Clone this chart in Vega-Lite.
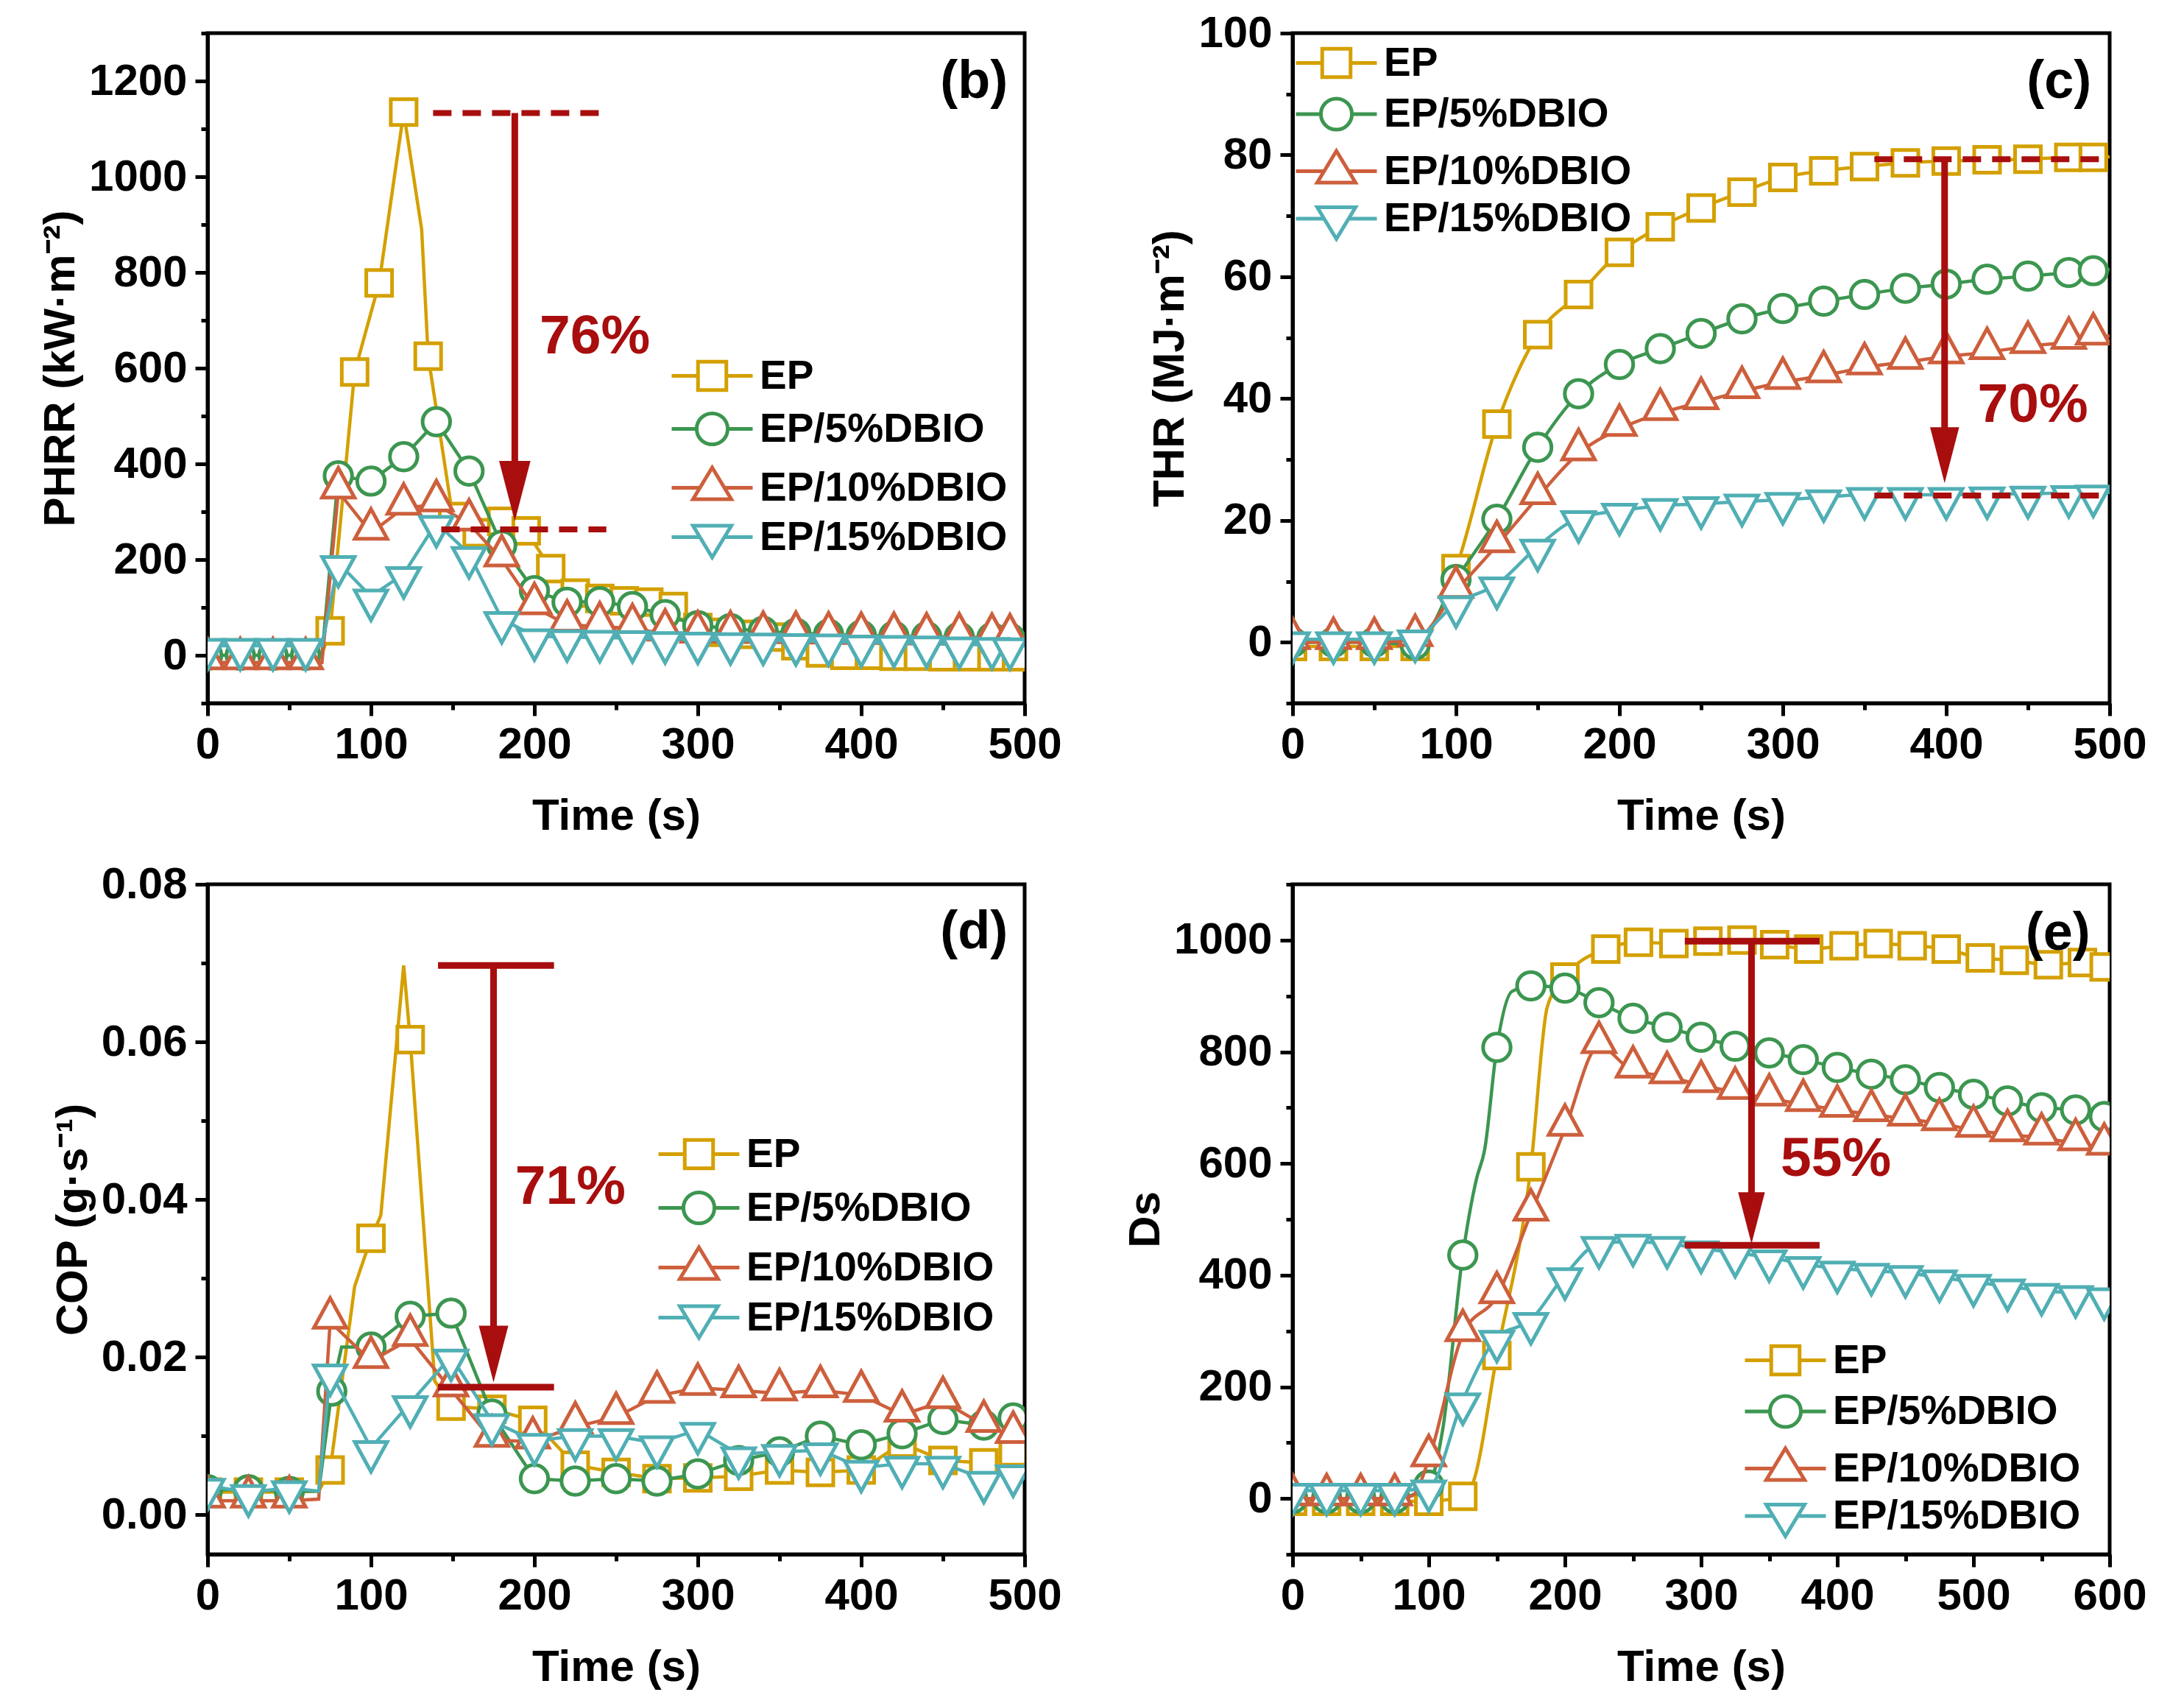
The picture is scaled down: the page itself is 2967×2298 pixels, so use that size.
{
"$schema":"https://vega.github.io/schema/vega-lite/v6.json",
"background":"white",
"padding":{"left":50,"top":12,"right":10,"bottom":10},
"columns":2,
"spacing":{"row":246,"column":364},
"bounds":"flush",
"resolve":{"scale":{"stroke":"independent","shape":"independent"}},
"datasets":{
"b":[
{"s":"EP","t":0,"v":3,"m":1},{"s":"EP","t":15,"v":3,"m":1},{"s":"EP","t":30,"v":3,"m":1},{"s":"EP","t":45,"v":3,"m":1},{"s":"EP","t":60,"v":3,"m":1},{"s":"EP","t":70,"v":3,"m":0},{"s":"EP","t":75,"v":51,"m":1},{"s":"EP","t":90,"v":592,"m":1},{"s":"EP","t":105,"v":778,"m":1},{"s":"EP","t":120,"v":1135,"m":1},{"s":"EP","t":131,"v":890,"m":0},{"s":"EP","t":135,"v":625,"m":1},{"s":"EP","t":150,"v":290,"m":1},{"s":"EP","t":165,"v":256,"m":1},{"s":"EP","t":180,"v":280,"m":1},{"s":"EP","t":195,"v":260,"m":1},{"s":"EP","t":210,"v":181,"m":1},{"s":"EP","t":225,"v":130,"m":1},{"s":"EP","t":240,"v":119,"m":1},{"s":"EP","t":255,"v":114,"m":1},{"s":"EP","t":270,"v":111,"m":1},{"s":"EP","t":285,"v":102,"m":1},{"s":"EP","t":300,"v":58,"m":1},{"s":"EP","t":315,"v":48,"m":1},{"s":"EP","t":330,"v":44,"m":1},{"s":"EP","t":345,"v":38,"m":1},{"s":"EP","t":360,"v":20,"m":1},{"s":"EP","t":375,"v":5,"m":1},{"s":"EP","t":390,"v":0,"m":1},{"s":"EP","t":405,"v":0,"m":1},{"s":"EP","t":420,"v":-2,"m":1},{"s":"EP","t":435,"v":-2,"m":1},{"s":"EP","t":450,"v":-3,"m":1},{"s":"EP","t":465,"v":-3,"m":1},{"s":"EP","t":480,"v":-3,"m":1},{"s":"EP","t":495,"v":-3,"m":1},{"s":"EP","t":500,"v":-3,"m":0},
{"s":"EP/5%DBIO","t":0,"v":0,"m":1},{"s":"EP/5%DBIO","t":20,"v":0,"m":1},{"s":"EP/5%DBIO","t":40,"v":0,"m":1},{"s":"EP/5%DBIO","t":60,"v":0,"m":1},{"s":"EP/5%DBIO","t":70,"v":0,"m":0},{"s":"EP/5%DBIO","t":80,"v":375,"m":1},{"s":"EP/5%DBIO","t":100,"v":364,"m":1},{"s":"EP/5%DBIO","t":120,"v":415,"m":1},{"s":"EP/5%DBIO","t":140,"v":488,"m":1},{"s":"EP/5%DBIO","t":160,"v":385,"m":1},{"s":"EP/5%DBIO","t":180,"v":230,"m":1},{"s":"EP/5%DBIO","t":200,"v":135,"m":1},{"s":"EP/5%DBIO","t":220,"v":111,"m":1},{"s":"EP/5%DBIO","t":240,"v":112,"m":1},{"s":"EP/5%DBIO","t":260,"v":102,"m":1},{"s":"EP/5%DBIO","t":280,"v":85,"m":1},{"s":"EP/5%DBIO","t":300,"v":62,"m":1},{"s":"EP/5%DBIO","t":320,"v":56,"m":1},{"s":"EP/5%DBIO","t":340,"v":50,"m":1},{"s":"EP/5%DBIO","t":360,"v":46,"m":1},{"s":"EP/5%DBIO","t":380,"v":44,"m":1},{"s":"EP/5%DBIO","t":400,"v":42,"m":1},{"s":"EP/5%DBIO","t":420,"v":40,"m":1},{"s":"EP/5%DBIO","t":440,"v":39,"m":1},{"s":"EP/5%DBIO","t":460,"v":38,"m":1},{"s":"EP/5%DBIO","t":480,"v":37,"m":1},{"s":"EP/5%DBIO","t":491,"v":36,"m":1},{"s":"EP/5%DBIO","t":500,"v":36,"m":0},
{"s":"EP/10%DBIO","t":0,"v":-15,"m":1},{"s":"EP/10%DBIO","t":20,"v":-15,"m":1},{"s":"EP/10%DBIO","t":40,"v":-15,"m":1},{"s":"EP/10%DBIO","t":60,"v":-15,"m":1},{"s":"EP/10%DBIO","t":70,"v":-15,"m":0},{"s":"EP/10%DBIO","t":80,"v":342,"m":1},{"s":"EP/10%DBIO","t":100,"v":256,"m":1},{"s":"EP/10%DBIO","t":120,"v":308,"m":1},{"s":"EP/10%DBIO","t":140,"v":315,"m":1},{"s":"EP/10%DBIO","t":160,"v":275,"m":1},{"s":"EP/10%DBIO","t":180,"v":200,"m":1},{"s":"EP/10%DBIO","t":200,"v":100,"m":1},{"s":"EP/10%DBIO","t":220,"v":64,"m":1},{"s":"EP/10%DBIO","t":240,"v":60,"m":1},{"s":"EP/10%DBIO","t":260,"v":56,"m":1},{"s":"EP/10%DBIO","t":280,"v":45,"m":1},{"s":"EP/10%DBIO","t":300,"v":41,"m":1},{"s":"EP/10%DBIO","t":320,"v":41,"m":1},{"s":"EP/10%DBIO","t":340,"v":40,"m":1},{"s":"EP/10%DBIO","t":360,"v":40,"m":1},{"s":"EP/10%DBIO","t":380,"v":39,"m":1},{"s":"EP/10%DBIO","t":400,"v":38,"m":1},{"s":"EP/10%DBIO","t":420,"v":38,"m":1},{"s":"EP/10%DBIO","t":440,"v":37,"m":1},{"s":"EP/10%DBIO","t":460,"v":37,"m":1},{"s":"EP/10%DBIO","t":480,"v":36,"m":1},{"s":"EP/10%DBIO","t":491,"v":35,"m":1},{"s":"EP/10%DBIO","t":500,"v":35,"m":0},
{"s":"EP/15%DBIO","t":0,"v":20,"m":1},{"s":"EP/15%DBIO","t":20,"v":20,"m":1},{"s":"EP/15%DBIO","t":40,"v":20,"m":1},{"s":"EP/15%DBIO","t":60,"v":20,"m":1},{"s":"EP/15%DBIO","t":70,"v":20,"m":0},{"s":"EP/15%DBIO","t":80,"v":193,"m":1},{"s":"EP/15%DBIO","t":100,"v":123,"m":1},{"s":"EP/15%DBIO","t":120,"v":170,"m":1},{"s":"EP/15%DBIO","t":140,"v":277,"m":1},{"s":"EP/15%DBIO","t":160,"v":212,"m":1},{"s":"EP/15%DBIO","t":180,"v":76,"m":1},{"s":"EP/15%DBIO","t":200,"v":40,"m":1},{"s":"EP/15%DBIO","t":220,"v":38,"m":1},{"s":"EP/15%DBIO","t":240,"v":37,"m":1},{"s":"EP/15%DBIO","t":260,"v":36,"m":1},{"s":"EP/15%DBIO","t":280,"v":34,"m":1},{"s":"EP/15%DBIO","t":300,"v":33,"m":1},{"s":"EP/15%DBIO","t":320,"v":32,"m":1},{"s":"EP/15%DBIO","t":340,"v":31,"m":1},{"s":"EP/15%DBIO","t":360,"v":30,"m":1},{"s":"EP/15%DBIO","t":380,"v":29,"m":1},{"s":"EP/15%DBIO","t":400,"v":27,"m":1},{"s":"EP/15%DBIO","t":420,"v":26,"m":1},{"s":"EP/15%DBIO","t":440,"v":25,"m":1},{"s":"EP/15%DBIO","t":460,"v":23,"m":1},{"s":"EP/15%DBIO","t":480,"v":22,"m":1},{"s":"EP/15%DBIO","t":491,"v":21,"m":1},{"s":"EP/15%DBIO","t":500,"v":20,"m":0}
],
"c":[
{"s":"EP","t":0,"v":-0.7,"m":1},{"s":"EP","t":25,"v":-0.7,"m":1},{"s":"EP","t":50,"v":-0.7,"m":1},{"s":"EP","t":75,"v":-0.7,"m":1},{"s":"EP","t":100,"v":12.1,"m":1},{"s":"EP","t":125,"v":35.8,"m":1},{"s":"EP","t":150,"v":50.5,"m":1},{"s":"EP","t":175,"v":57.1,"m":1},{"s":"EP","t":200,"v":64,"m":1},{"s":"EP","t":225,"v":68.2,"m":1},{"s":"EP","t":250,"v":71.3,"m":1},{"s":"EP","t":275,"v":73.9,"m":1},{"s":"EP","t":300,"v":76.3,"m":1},{"s":"EP","t":325,"v":77.4,"m":1},{"s":"EP","t":350,"v":78.1,"m":1},{"s":"EP","t":375,"v":78.7,"m":1},{"s":"EP","t":400,"v":79,"m":1},{"s":"EP","t":425,"v":79.2,"m":1},{"s":"EP","t":450,"v":79.3,"m":1},{"s":"EP","t":475,"v":79.6,"m":1},{"s":"EP","t":490,"v":79.6,"m":1},{"s":"EP","t":500,"v":79.7,"m":0},
{"s":"EP/5%DBIO","t":0,"v":0,"m":1},{"s":"EP/5%DBIO","t":25,"v":0,"m":1},{"s":"EP/5%DBIO","t":50,"v":0,"m":1},{"s":"EP/5%DBIO","t":75,"v":-0.4,"m":1},{"s":"EP/5%DBIO","t":100,"v":10.3,"m":1},{"s":"EP/5%DBIO","t":125,"v":20.2,"m":1},{"s":"EP/5%DBIO","t":150,"v":32,"m":1},{"s":"EP/5%DBIO","t":175,"v":40.8,"m":1},{"s":"EP/5%DBIO","t":200,"v":45.6,"m":1},{"s":"EP/5%DBIO","t":225,"v":48.2,"m":1},{"s":"EP/5%DBIO","t":250,"v":50.7,"m":1},{"s":"EP/5%DBIO","t":275,"v":53.1,"m":1},{"s":"EP/5%DBIO","t":300,"v":54.8,"m":1},{"s":"EP/5%DBIO","t":325,"v":56,"m":1},{"s":"EP/5%DBIO","t":350,"v":57.1,"m":1},{"s":"EP/5%DBIO","t":375,"v":58.1,"m":1},{"s":"EP/5%DBIO","t":400,"v":58.8,"m":1},{"s":"EP/5%DBIO","t":425,"v":59.6,"m":1},{"s":"EP/5%DBIO","t":450,"v":60.1,"m":1},{"s":"EP/5%DBIO","t":475,"v":60.7,"m":1},{"s":"EP/5%DBIO","t":490,"v":61,"m":1},{"s":"EP/5%DBIO","t":500,"v":61.2,"m":0},
{"s":"EP/10%DBIO","t":0,"v":0,"m":1},{"s":"EP/10%DBIO","t":25,"v":0,"m":1},{"s":"EP/10%DBIO","t":50,"v":0,"m":1},{"s":"EP/10%DBIO","t":75,"v":0.5,"m":1},{"s":"EP/10%DBIO","t":100,"v":8.4,"m":1},{"s":"EP/10%DBIO","t":125,"v":15.9,"m":1},{"s":"EP/10%DBIO","t":150,"v":23.8,"m":1},{"s":"EP/10%DBIO","t":175,"v":31,"m":1},{"s":"EP/10%DBIO","t":200,"v":35,"m":1},{"s":"EP/10%DBIO","t":225,"v":37.6,"m":1},{"s":"EP/10%DBIO","t":250,"v":39.4,"m":1},{"s":"EP/10%DBIO","t":275,"v":41.2,"m":1},{"s":"EP/10%DBIO","t":300,"v":42.7,"m":1},{"s":"EP/10%DBIO","t":325,"v":43.8,"m":1},{"s":"EP/10%DBIO","t":350,"v":45.1,"m":1},{"s":"EP/10%DBIO","t":375,"v":46,"m":1},{"s":"EP/10%DBIO","t":400,"v":46.9,"m":1},{"s":"EP/10%DBIO","t":425,"v":47.6,"m":1},{"s":"EP/10%DBIO","t":450,"v":48.6,"m":1},{"s":"EP/10%DBIO","t":475,"v":49.3,"m":1},{"s":"EP/10%DBIO","t":490,"v":50,"m":1},{"s":"EP/10%DBIO","t":500,"v":50.3,"m":0},
{"s":"EP/15%DBIO","t":0,"v":0.5,"m":1},{"s":"EP/15%DBIO","t":25,"v":0.5,"m":1},{"s":"EP/15%DBIO","t":50,"v":0.5,"m":1},{"s":"EP/15%DBIO","t":75,"v":0.8,"m":1},{"s":"EP/15%DBIO","t":100,"v":6.4,"m":1},{"s":"EP/15%DBIO","t":125,"v":9.5,"m":1},{"s":"EP/15%DBIO","t":150,"v":15.7,"m":1},{"s":"EP/15%DBIO","t":175,"v":20.4,"m":1},{"s":"EP/15%DBIO","t":200,"v":21.6,"m":1},{"s":"EP/15%DBIO","t":225,"v":22.4,"m":1},{"s":"EP/15%DBIO","t":250,"v":22.7,"m":1},{"s":"EP/15%DBIO","t":275,"v":23.1,"m":1},{"s":"EP/15%DBIO","t":300,"v":23.4,"m":1},{"s":"EP/15%DBIO","t":325,"v":23.8,"m":1},{"s":"EP/15%DBIO","t":350,"v":24.2,"m":1},{"s":"EP/15%DBIO","t":375,"v":24.2,"m":1},{"s":"EP/15%DBIO","t":400,"v":24.2,"m":1},{"s":"EP/15%DBIO","t":425,"v":24.3,"m":1},{"s":"EP/15%DBIO","t":450,"v":24.4,"m":1},{"s":"EP/15%DBIO","t":475,"v":24.5,"m":1},{"s":"EP/15%DBIO","t":490,"v":24.6,"m":1},{"s":"EP/15%DBIO","t":500,"v":24.6,"m":0}
],
"d":[
{"s":"EP","t":0,"v":0.0029,"m":1},{"s":"EP","t":25,"v":0.0029,"m":1},{"s":"EP","t":50,"v":0.0029,"m":1},{"s":"EP","t":68,"v":0.003,"m":0},{"s":"EP","t":75,"v":0.0057,"m":1},{"s":"EP","t":90,"v":0.029,"m":0},{"s":"EP","t":100,"v":0.0351,"m":1},{"s":"EP","t":106,"v":0.038,"m":0},{"s":"EP","t":120,"v":0.0697,"m":0},{"s":"EP","t":124,"v":0.0603,"m":1},{"s":"EP","t":139,"v":0.017,"m":0},{"s":"EP","t":149,"v":0.0138,"m":1},{"s":"EP","t":174,"v":0.0134,"m":1},{"s":"EP","t":199,"v":0.012,"m":1},{"s":"EP","t":225,"v":0.0063,"m":1},{"s":"EP","t":250,"v":0.0054,"m":1},{"s":"EP","t":275,"v":0.0046,"m":1},{"s":"EP","t":300,"v":0.0047,"m":1},{"s":"EP","t":325,"v":0.0049,"m":1},{"s":"EP","t":350,"v":0.0057,"m":1},{"s":"EP","t":375,"v":0.0054,"m":1},{"s":"EP","t":400,"v":0.0057,"m":1},{"s":"EP","t":425,"v":0.0091,"m":1},{"s":"EP","t":450,"v":0.0069,"m":1},{"s":"EP","t":475,"v":0.0066,"m":1},{"s":"EP","t":493,"v":0.008,"m":1},{"s":"EP","t":500,"v":0.0082,"m":0},
{"s":"EP/5%DBIO","t":0,"v":0.0032,"m":1},{"s":"EP/5%DBIO","t":25,"v":0.0032,"m":1},{"s":"EP/5%DBIO","t":50,"v":0.003,"m":1},{"s":"EP/5%DBIO","t":68,"v":0.003,"m":0},{"s":"EP/5%DBIO","t":76,"v":0.0157,"m":1},{"s":"EP/5%DBIO","t":82,"v":0.0213,"m":0},{"s":"EP/5%DBIO","t":100,"v":0.0213,"m":1},{"s":"EP/5%DBIO","t":124,"v":0.0252,"m":1},{"s":"EP/5%DBIO","t":149,"v":0.0256,"m":1},{"s":"EP/5%DBIO","t":158,"v":0.021,"m":0},{"s":"EP/5%DBIO","t":174,"v":0.0128,"m":1},{"s":"EP/5%DBIO","t":200,"v":0.0046,"m":1},{"s":"EP/5%DBIO","t":225,"v":0.0043,"m":1},{"s":"EP/5%DBIO","t":250,"v":0.0046,"m":1},{"s":"EP/5%DBIO","t":275,"v":0.0043,"m":1},{"s":"EP/5%DBIO","t":300,"v":0.0052,"m":1},{"s":"EP/5%DBIO","t":325,"v":0.0069,"m":1},{"s":"EP/5%DBIO","t":350,"v":0.008,"m":1},{"s":"EP/5%DBIO","t":375,"v":0.01,"m":1},{"s":"EP/5%DBIO","t":400,"v":0.0089,"m":1},{"s":"EP/5%DBIO","t":425,"v":0.0103,"m":1},{"s":"EP/5%DBIO","t":450,"v":0.0121,"m":1},{"s":"EP/5%DBIO","t":475,"v":0.0114,"m":1},{"s":"EP/5%DBIO","t":493,"v":0.0123,"m":1},{"s":"EP/5%DBIO","t":500,"v":0.0115,"m":0},
{"s":"EP/10%DBIO","t":0,"v":0.0018,"m":1},{"s":"EP/10%DBIO","t":25,"v":0.0018,"m":1},{"s":"EP/10%DBIO","t":50,"v":0.0018,"m":1},{"s":"EP/10%DBIO","t":68,"v":0.002,"m":0},{"s":"EP/10%DBIO","t":75,"v":0.0245,"m":1},{"s":"EP/10%DBIO","t":100,"v":0.0195,"m":1},{"s":"EP/10%DBIO","t":124,"v":0.0223,"m":1},{"s":"EP/10%DBIO","t":149,"v":0.0159,"m":1},{"s":"EP/10%DBIO","t":174,"v":0.0095,"m":1},{"s":"EP/10%DBIO","t":199,"v":0.0093,"m":1},{"s":"EP/10%DBIO","t":225,"v":0.0112,"m":1},{"s":"EP/10%DBIO","t":250,"v":0.0124,"m":1},{"s":"EP/10%DBIO","t":275,"v":0.0151,"m":1},{"s":"EP/10%DBIO","t":300,"v":0.0161,"m":1},{"s":"EP/10%DBIO","t":325,"v":0.0158,"m":1},{"s":"EP/10%DBIO","t":350,"v":0.0154,"m":1},{"s":"EP/10%DBIO","t":375,"v":0.0158,"m":1},{"s":"EP/10%DBIO","t":400,"v":0.0152,"m":1},{"s":"EP/10%DBIO","t":425,"v":0.0127,"m":1},{"s":"EP/10%DBIO","t":450,"v":0.0144,"m":1},{"s":"EP/10%DBIO","t":475,"v":0.0114,"m":1},{"s":"EP/10%DBIO","t":493,"v":0.01,"m":1},{"s":"EP/10%DBIO","t":500,"v":0.0098,"m":0},
{"s":"EP/15%DBIO","t":0,"v":0.0037,"m":1},{"s":"EP/15%DBIO","t":25,"v":0.0029,"m":1},{"s":"EP/15%DBIO","t":50,"v":0.0034,"m":1},{"s":"EP/15%DBIO","t":68,"v":0.003,"m":0},{"s":"EP/15%DBIO","t":75,"v":0.0182,"m":1},{"s":"EP/15%DBIO","t":100,"v":0.0085,"m":1},{"s":"EP/15%DBIO","t":124,"v":0.0142,"m":1},{"s":"EP/15%DBIO","t":149,"v":0.0201,"m":1},{"s":"EP/15%DBIO","t":174,"v":0.0119,"m":1},{"s":"EP/15%DBIO","t":200,"v":0.0094,"m":1},{"s":"EP/15%DBIO","t":225,"v":0.01,"m":1},{"s":"EP/15%DBIO","t":250,"v":0.01,"m":1},{"s":"EP/15%DBIO","t":275,"v":0.0091,"m":1},{"s":"EP/15%DBIO","t":300,"v":0.0108,"m":1},{"s":"EP/15%DBIO","t":325,"v":0.0077,"m":1},{"s":"EP/15%DBIO","t":350,"v":0.008,"m":1},{"s":"EP/15%DBIO","t":375,"v":0.0082,"m":1},{"s":"EP/15%DBIO","t":400,"v":0.006,"m":1},{"s":"EP/15%DBIO","t":425,"v":0.0065,"m":1},{"s":"EP/15%DBIO","t":450,"v":0.0065,"m":1},{"s":"EP/15%DBIO","t":475,"v":0.0046,"m":1},{"s":"EP/15%DBIO","t":493,"v":0.0054,"m":1},{"s":"EP/15%DBIO","t":500,"v":0.005,"m":0}
],
"e":[
{"s":"EP","t":0,"v":-5,"m":1},{"s":"EP","t":25,"v":-5,"m":1},{"s":"EP","t":50,"v":-5,"m":1},{"s":"EP","t":75,"v":-5,"m":1},{"s":"EP","t":100,"v":-5,"m":1},{"s":"EP","t":125,"v":4,"m":1},{"s":"EP","t":132,"v":25,"m":0},{"s":"EP","t":150,"v":256,"m":1},{"s":"EP","t":175,"v":594,"m":1},{"s":"EP","t":187,"v":880,"m":0},{"s":"EP","t":200,"v":934,"m":1},{"s":"EP","t":230,"v":984,"m":1},{"s":"EP","t":254,"v":996,"m":1},{"s":"EP","t":280,"v":994,"m":1},{"s":"EP","t":305,"v":998,"m":1},{"s":"EP","t":330,"v":1000,"m":1},{"s":"EP","t":354,"v":992,"m":1},{"s":"EP","t":379,"v":984,"m":1},{"s":"EP","t":405,"v":990,"m":1},{"s":"EP","t":430,"v":994,"m":1},{"s":"EP","t":455,"v":990,"m":1},{"s":"EP","t":480,"v":984,"m":1},{"s":"EP","t":505,"v":968,"m":1},{"s":"EP","t":530,"v":964,"m":1},{"s":"EP","t":555,"v":956,"m":1},{"s":"EP","t":580,"v":960,"m":1},{"s":"EP","t":596,"v":952,"m":1},{"s":"EP","t":600,"v":950,"m":0},
{"s":"EP/5%DBIO","t":0,"v":0,"m":1},{"s":"EP/5%DBIO","t":25,"v":0,"m":1},{"s":"EP/5%DBIO","t":50,"v":0,"m":1},{"s":"EP/5%DBIO","t":75,"v":0,"m":1},{"s":"EP/5%DBIO","t":100,"v":24,"m":1},{"s":"EP/5%DBIO","t":110,"v":120,"m":0},{"s":"EP/5%DBIO","t":125,"v":436,"m":1},{"s":"EP/5%DBIO","t":135,"v":572,"m":0},{"s":"EP/5%DBIO","t":141,"v":624,"m":0},{"s":"EP/5%DBIO","t":150,"v":808,"m":1},{"s":"EP/5%DBIO","t":161,"v":908,"m":0},{"s":"EP/5%DBIO","t":175,"v":918,"m":1},{"s":"EP/5%DBIO","t":200,"v":914,"m":1},{"s":"EP/5%DBIO","t":225,"v":888,"m":1},{"s":"EP/5%DBIO","t":250,"v":860,"m":1},{"s":"EP/5%DBIO","t":275,"v":844,"m":1},{"s":"EP/5%DBIO","t":300,"v":826,"m":1},{"s":"EP/5%DBIO","t":325,"v":810,"m":1},{"s":"EP/5%DBIO","t":350,"v":798,"m":1},{"s":"EP/5%DBIO","t":375,"v":786,"m":1},{"s":"EP/5%DBIO","t":400,"v":772,"m":1},{"s":"EP/5%DBIO","t":425,"v":760,"m":1},{"s":"EP/5%DBIO","t":450,"v":750,"m":1},{"s":"EP/5%DBIO","t":475,"v":736,"m":1},{"s":"EP/5%DBIO","t":500,"v":724,"m":1},{"s":"EP/5%DBIO","t":525,"v":712,"m":1},{"s":"EP/5%DBIO","t":550,"v":700,"m":1},{"s":"EP/5%DBIO","t":575,"v":696,"m":1},{"s":"EP/5%DBIO","t":596,"v":684,"m":1},{"s":"EP/5%DBIO","t":600,"v":682,"m":0},
{"s":"EP/10%DBIO","t":0,"v":0,"m":1},{"s":"EP/10%DBIO","t":25,"v":0,"m":1},{"s":"EP/10%DBIO","t":50,"v":0,"m":1},{"s":"EP/10%DBIO","t":75,"v":0,"m":1},{"s":"EP/10%DBIO","t":88,"v":5,"m":0},{"s":"EP/10%DBIO","t":100,"v":70,"m":1},{"s":"EP/10%DBIO","t":125,"v":294,"m":1},{"s":"EP/10%DBIO","t":150,"v":362,"m":1},{"s":"EP/10%DBIO","t":175,"v":510,"m":1},{"s":"EP/10%DBIO","t":200,"v":662,"m":1},{"s":"EP/10%DBIO","t":225,"v":810,"m":1},{"s":"EP/10%DBIO","t":250,"v":766,"m":1},{"s":"EP/10%DBIO","t":275,"v":756,"m":1},{"s":"EP/10%DBIO","t":300,"v":740,"m":1},{"s":"EP/10%DBIO","t":325,"v":728,"m":1},{"s":"EP/10%DBIO","t":350,"v":716,"m":1},{"s":"EP/10%DBIO","t":375,"v":706,"m":1},{"s":"EP/10%DBIO","t":400,"v":696,"m":1},{"s":"EP/10%DBIO","t":425,"v":688,"m":1},{"s":"EP/10%DBIO","t":450,"v":680,"m":1},{"s":"EP/10%DBIO","t":475,"v":672,"m":1},{"s":"EP/10%DBIO","t":500,"v":660,"m":1},{"s":"EP/10%DBIO","t":525,"v":652,"m":1},{"s":"EP/10%DBIO","t":550,"v":646,"m":1},{"s":"EP/10%DBIO","t":575,"v":636,"m":1},{"s":"EP/10%DBIO","t":596,"v":628,"m":1},{"s":"EP/10%DBIO","t":600,"v":626,"m":0},
{"s":"EP/15%DBIO","t":0,"v":14,"m":1},{"s":"EP/15%DBIO","t":25,"v":14,"m":1},{"s":"EP/15%DBIO","t":50,"v":14,"m":1},{"s":"EP/15%DBIO","t":75,"v":14,"m":1},{"s":"EP/15%DBIO","t":100,"v":20,"m":1},{"s":"EP/15%DBIO","t":125,"v":176,"m":1},{"s":"EP/15%DBIO","t":150,"v":288,"m":1},{"s":"EP/15%DBIO","t":175,"v":320,"m":1},{"s":"EP/15%DBIO","t":200,"v":400,"m":1},{"s":"EP/15%DBIO","t":225,"v":456,"m":1},{"s":"EP/15%DBIO","t":250,"v":460,"m":1},{"s":"EP/15%DBIO","t":275,"v":456,"m":1},{"s":"EP/15%DBIO","t":300,"v":448,"m":1},{"s":"EP/15%DBIO","t":325,"v":440,"m":1},{"s":"EP/15%DBIO","t":350,"v":432,"m":1},{"s":"EP/15%DBIO","t":375,"v":420,"m":1},{"s":"EP/15%DBIO","t":400,"v":412,"m":1},{"s":"EP/15%DBIO","t":425,"v":408,"m":1},{"s":"EP/15%DBIO","t":450,"v":404,"m":1},{"s":"EP/15%DBIO","t":475,"v":396,"m":1},{"s":"EP/15%DBIO","t":500,"v":388,"m":1},{"s":"EP/15%DBIO","t":525,"v":380,"m":1},{"s":"EP/15%DBIO","t":550,"v":372,"m":1},{"s":"EP/15%DBIO","t":575,"v":368,"m":1},{"s":"EP/15%DBIO","t":596,"v":364,"m":1},{"s":"EP/15%DBIO","t":600,"v":362,"m":0}
]
},
"concat":[
{
"width":1110,"height":910,
"data":{"name":"b"},
"encoding":{
"x":{"field":"t","type":"quantitative","scale":{"domain":[0,500],"nice":false,"zero":false},"axis":{"title":"Time (s)","values":[0,50,100,150,200,250,300,350,400,450,500],"labelExpr":"datum.value % 100 == 0 ? '' + datum.value : ''","tickSize":{"condition":{"test":"datum.value % 100 != 0","value":9},"value":17}}},
"y":{"field":"v","type":"quantitative","scale":{"domain":[-100,1300],"nice":false,"zero":false},"axis":{"title":"PHRR (kW·m⁻²)","values":[-100,0,100,200,300,400,500,600,700,800,900,1000,1100,1200,1300],"labelExpr":"datum.value % 200 == 0 ? '' + datum.value : ''","tickSize":{"condition":{"test":"datum.value % 200 != 0","value":9},"value":17}}}
},
"layer":[
{"transform":[{"filter":"datum.s == 'EP'"}],"mark":{"type":"line","color":"#D4A000","strokeWidth":4.5,"interpolate":"linear","clip":true}},
{"transform":[{"filter":"datum.s == 'EP' && datum.m == 1"}],"mark":{"type":"point","shape":"square","size":1225,"filled":true,"fill":"white","stroke":"#D4A000","strokeWidth":5,"opacity":1,"clip":true}},
{"transform":[{"filter":"datum.s == 'EP/5%DBIO'"}],"mark":{"type":"line","color":"#3C9650","strokeWidth":4.5,"interpolate":"linear","clip":true}},
{"transform":[{"filter":"datum.s == 'EP/5%DBIO' && datum.m == 1"}],"mark":{"type":"point","shape":"circle","size":1400,"filled":true,"fill":"white","stroke":"#3C9650","strokeWidth":5,"opacity":1,"clip":true}},
{"transform":[{"filter":"datum.s == 'EP/10%DBIO'"}],"mark":{"type":"line","color":"#CD5F3C","strokeWidth":4.5,"interpolate":"linear","clip":true}},
{"transform":[{"filter":"datum.s == 'EP/10%DBIO' && datum.m == 1"}],"mark":{"type":"point","shape":"M0,-1.76L1.2,0.44L-1.2,0.44Z","size":1344,"filled":true,"fill":"white","stroke":"#CD5F3C","strokeWidth":5,"opacity":1,"clip":true}},
{"transform":[{"filter":"datum.s == 'EP/15%DBIO'"}],"mark":{"type":"line","color":"#50AFB4","strokeWidth":4.5,"interpolate":"linear","clip":true}},
{"transform":[{"filter":"datum.s == 'EP/15%DBIO' && datum.m == 1"}],"mark":{"type":"point","shape":"M0,1.76L1.2,-0.44L-1.2,-0.44Z","size":1344,"filled":true,"fill":"white","stroke":"#50AFB4","strokeWidth":5,"opacity":1,"clip":true}},
{"data":{"values":[{"t":138,"t2":240,"v":1133},{"t":143,"t2":244,"v":263}]},"mark":{"type":"rule","color":"#A80E0E","strokeWidth":8,"strokeDash":[25,15]},"encoding":{"x2":{"field":"t2"}}},
{"data":{"values":[{"t":188,"v":1133,"v2":340}]},"mark":{"type":"rule","color":"#A80E0E","strokeWidth":9},"encoding":{"y2":{"field":"v2"}}},
{"data":{"values":[{"t":188,"v":280}]},"mark":{"type":"point","shape":"M-0.52,-2L0.52,-2L0,0Z","size":6724,"filled":true,"color":"#A80E0E","opacity":1,"strokeWidth":0}},
{"data":{"values":[{"t":237,"v":666,"txt":"76%"}]},"mark":{"type":"text","color":"#A80E0E","fontSize":75,"fontWeight":"bold","font":"Liberation Sans","align":"center","baseline":"middle"},"encoding":{"text":{"field":"txt"}}},
{"data":{"values":[{"t":469,"v":1198,"txt":"(b)"}]},"mark":{"type":"text","color":"black","fontSize":72,"fontWeight":"bold","font":"Liberation Sans","align":"center","baseline":"middle"},"encoding":{"text":{"field":"txt"}}},
{"transform":[{"filter":"false"}],"mark":{"type":"point","filled":false,"size":1344,"strokeWidth":5,"opacity":1},
"encoding":{
"stroke":{"field":"s","type":"nominal","scale":{"domain":["EP","EP/5%DBIO","EP/10%DBIO","EP/15%DBIO"],"range":["#D4A000","#3C9650","#CD5F3C","#50AFB4"]},"legend":{"title":null,"orient":"none","legendX":658,"legendY":438,"labelOffset":37,"rowPadding":11}},
"shape":{"field":"s","type":"nominal","scale":{"domain":["EP","EP/5%DBIO","EP/10%DBIO","EP/15%DBIO"],"range":["M-3,0H-1.05M1.05,0H3M-1.05,-1.05H1.05V1.05H-1.05Z","M-3,0H-1.15M1.15,0H3M-1.15,0A1.15,1.15,0,1,1,1.15,0A1.15,1.15,0,1,1,-1.15,0Z","M-3,0H-0.91M0.91,0H3M0,-1.5L1.42,0.85L-1.42,0.85Z","M-3,0H-0.91M0.91,0H3M0,1.5L1.42,-0.85L-1.42,-0.85Z"]},"legend":{"title":null,"orient":"none","legendX":658,"legendY":438,"labelOffset":37,"rowPadding":11}}
}}
]
},
{
"width":1110,"height":910,
"data":{"name":"c"},
"encoding":{
"x":{"field":"t","type":"quantitative","scale":{"domain":[0,500],"nice":false,"zero":false},"axis":{"title":"Time (s)","values":[0,50,100,150,200,250,300,350,400,450,500],"labelExpr":"datum.value % 100 == 0 ? '' + datum.value : ''","tickSize":{"condition":{"test":"datum.value % 100 != 0","value":9},"value":17}}},
"y":{"field":"v","type":"quantitative","scale":{"domain":[-10,100],"nice":false,"zero":false},"axis":{"title":"THR (MJ·m⁻²)","values":[-10,0,10,20,30,40,50,60,70,80,90,100],"labelExpr":"datum.value % 20 == 0 ? '' + datum.value : ''","tickSize":{"condition":{"test":"datum.value % 20 != 0","value":9},"value":17}}}
},
"layer":[
{"transform":[{"filter":"datum.s == 'EP'"}],"mark":{"type":"line","color":"#D4A000","strokeWidth":4.5,"interpolate":"monotone","clip":true}},
{"transform":[{"filter":"datum.s == 'EP' && datum.m == 1"}],"mark":{"type":"point","shape":"square","size":1225,"filled":true,"fill":"white","stroke":"#D4A000","strokeWidth":5,"opacity":1,"clip":true}},
{"transform":[{"filter":"datum.s == 'EP/5%DBIO'"}],"mark":{"type":"line","color":"#3C9650","strokeWidth":4.5,"interpolate":"monotone","clip":true}},
{"transform":[{"filter":"datum.s == 'EP/5%DBIO' && datum.m == 1"}],"mark":{"type":"point","shape":"circle","size":1400,"filled":true,"fill":"white","stroke":"#3C9650","strokeWidth":5,"opacity":1,"clip":true}},
{"transform":[{"filter":"datum.s == 'EP/10%DBIO'"}],"mark":{"type":"line","color":"#CD5F3C","strokeWidth":4.5,"interpolate":"monotone","clip":true}},
{"transform":[{"filter":"datum.s == 'EP/10%DBIO' && datum.m == 1"}],"mark":{"type":"point","shape":"M0,-1.76L1.2,0.44L-1.2,0.44Z","size":1344,"filled":true,"fill":"white","stroke":"#CD5F3C","strokeWidth":5,"opacity":1,"clip":true}},
{"transform":[{"filter":"datum.s == 'EP/15%DBIO'"}],"mark":{"type":"line","color":"#50AFB4","strokeWidth":4.5,"interpolate":"monotone","clip":true}},
{"transform":[{"filter":"datum.s == 'EP/15%DBIO' && datum.m == 1"}],"mark":{"type":"point","shape":"M0,1.76L1.2,-0.44L-1.2,-0.44Z","size":1344,"filled":true,"fill":"white","stroke":"#50AFB4","strokeWidth":5,"opacity":1,"clip":true}},
{"data":{"values":[{"t":356,"t2":495,"v":79.3},{"t":356,"t2":495,"v":24.1}]},"mark":{"type":"rule","color":"#A80E0E","strokeWidth":8,"strokeDash":[25,15]},"encoding":{"x2":{"field":"t2"}}},
{"data":{"values":[{"t":399,"v":79.3,"v2":33}]},"mark":{"type":"rule","color":"#A80E0E","strokeWidth":9},"encoding":{"y2":{"field":"v2"}}},
{"data":{"values":[{"t":399,"v":26.1}]},"mark":{"type":"point","shape":"M-0.52,-2L0.52,-2L0,0Z","size":5776,"filled":true,"color":"#A80E0E","opacity":1,"strokeWidth":0}},
{"data":{"values":[{"t":453,"v":39,"txt":"70%"}]},"mark":{"type":"text","color":"#A80E0E","fontSize":75,"fontWeight":"bold","font":"Liberation Sans","align":"center","baseline":"middle"},"encoding":{"text":{"field":"txt"}}},
{"data":{"values":[{"t":469,"v":92,"txt":"(c)"}]},"mark":{"type":"text","color":"black","fontSize":72,"fontWeight":"bold","font":"Liberation Sans","align":"center","baseline":"middle"},"encoding":{"text":{"field":"txt"}}},
{"transform":[{"filter":"false"}],"mark":{"type":"point","filled":false,"size":1344,"strokeWidth":5,"opacity":1},
"encoding":{
"stroke":{"field":"s","type":"nominal","scale":{"domain":["EP","EP/5%DBIO","EP/10%DBIO","EP/15%DBIO"],"range":["#D4A000","#3C9650","#CD5F3C","#50AFB4"]},"legend":{"title":null,"orient":"none","legendX":32,"legendY":13,"labelOffset":37,"rowPadding":8.5}},
"shape":{"field":"s","type":"nominal","scale":{"domain":["EP","EP/5%DBIO","EP/10%DBIO","EP/15%DBIO"],"range":["M-3,0H-1.05M1.05,0H3M-1.05,-1.05H1.05V1.05H-1.05Z","M-3,0H-1.15M1.15,0H3M-1.15,0A1.15,1.15,0,1,1,1.15,0A1.15,1.15,0,1,1,-1.15,0Z","M-3,0H-0.91M0.91,0H3M0,-1.5L1.42,0.85L-1.42,0.85Z","M-3,0H-0.91M0.91,0H3M0,1.5L1.42,-0.85L-1.42,-0.85Z"]},"legend":{"title":null,"orient":"none","legendX":32,"legendY":13,"labelOffset":37,"rowPadding":8.5}}
}}
]
},
{
"width":1110,"height":910,
"data":{"name":"d"},
"encoding":{
"x":{"field":"t","type":"quantitative","scale":{"domain":[0,500],"nice":false,"zero":false},"axis":{"title":"Time (s)","values":[0,50,100,150,200,250,300,350,400,450,500],"labelExpr":"datum.value % 100 == 0 ? '' + datum.value : ''","tickSize":{"condition":{"test":"datum.value % 100 != 0","value":9},"value":17}}},
"y":{"field":"v","type":"quantitative","scale":{"domain":[-0.005,0.08],"nice":false,"zero":false},"axis":{"title":"COP (g·s⁻¹)","values":[0,0.01,0.02,0.03,0.04,0.05,0.06,0.07,0.08],"labelExpr":"round(datum.value*100) % 2 == 0 ? format(datum.value, '.2f') : ''","tickSize":{"condition":{"test":"round(datum.value*100) % 2 != 0","value":9},"value":17}}}
},
"layer":[
{"transform":[{"filter":"datum.s == 'EP'"}],"mark":{"type":"line","color":"#D4A000","strokeWidth":4.5,"interpolate":"linear","clip":true}},
{"transform":[{"filter":"datum.s == 'EP' && datum.m == 1"}],"mark":{"type":"point","shape":"square","size":1225,"filled":true,"fill":"white","stroke":"#D4A000","strokeWidth":5,"opacity":1,"clip":true}},
{"transform":[{"filter":"datum.s == 'EP/5%DBIO'"}],"mark":{"type":"line","color":"#3C9650","strokeWidth":4.5,"interpolate":"linear","clip":true}},
{"transform":[{"filter":"datum.s == 'EP/5%DBIO' && datum.m == 1"}],"mark":{"type":"point","shape":"circle","size":1400,"filled":true,"fill":"white","stroke":"#3C9650","strokeWidth":5,"opacity":1,"clip":true}},
{"transform":[{"filter":"datum.s == 'EP/10%DBIO'"}],"mark":{"type":"line","color":"#CD5F3C","strokeWidth":4.5,"interpolate":"linear","clip":true}},
{"transform":[{"filter":"datum.s == 'EP/10%DBIO' && datum.m == 1"}],"mark":{"type":"point","shape":"M0,-1.76L1.2,0.44L-1.2,0.44Z","size":1344,"filled":true,"fill":"white","stroke":"#CD5F3C","strokeWidth":5,"opacity":1,"clip":true}},
{"transform":[{"filter":"datum.s == 'EP/15%DBIO'"}],"mark":{"type":"line","color":"#50AFB4","strokeWidth":4.5,"interpolate":"linear","clip":true}},
{"transform":[{"filter":"datum.s == 'EP/15%DBIO' && datum.m == 1"}],"mark":{"type":"point","shape":"M0,1.76L1.2,-0.44L-1.2,-0.44Z","size":1344,"filled":true,"fill":"white","stroke":"#50AFB4","strokeWidth":5,"opacity":1,"clip":true}},
{"data":{"values":[{"t":141,"t2":212,"v":0.0697},{"t":141,"t2":212,"v":0.0162}]},"mark":{"type":"rule","color":"#A80E0E","strokeWidth":9},"encoding":{"x2":{"field":"t2"}}},
{"data":{"values":[{"t":175,"v":0.0697,"v2":0.022}]},"mark":{"type":"rule","color":"#A80E0E","strokeWidth":9},"encoding":{"y2":{"field":"v2"}}},
{"data":{"values":[{"t":175,"v":0.0168}]},"mark":{"type":"point","shape":"M-0.52,-2L0.52,-2L0,0Z","size":5929,"filled":true,"color":"#A80E0E","opacity":1,"strokeWidth":0}},
{"data":{"values":[{"t":222,"v":0.0416,"txt":"71%"}]},"mark":{"type":"text","color":"#A80E0E","fontSize":75,"fontWeight":"bold","font":"Liberation Sans","align":"center","baseline":"middle"},"encoding":{"text":{"field":"txt"}}},
{"data":{"values":[{"t":469,"v":0.0739,"txt":"(d)"}]},"mark":{"type":"text","color":"black","fontSize":72,"fontWeight":"bold","font":"Liberation Sans","align":"center","baseline":"middle"},"encoding":{"text":{"field":"txt"}}},
{"transform":[{"filter":"false"}],"mark":{"type":"point","filled":false,"size":1344,"strokeWidth":5,"opacity":1},
"encoding":{
"stroke":{"field":"s","type":"nominal","scale":{"domain":["EP","EP/5%DBIO","EP/10%DBIO","EP/15%DBIO"],"range":["#D4A000","#3C9650","#CD5F3C","#50AFB4"]},"legend":{"title":null,"orient":"none","legendX":640,"legendY":339,"labelOffset":37,"rowPadding":12}},
"shape":{"field":"s","type":"nominal","scale":{"domain":["EP","EP/5%DBIO","EP/10%DBIO","EP/15%DBIO"],"range":["M-3,0H-1.05M1.05,0H3M-1.05,-1.05H1.05V1.05H-1.05Z","M-3,0H-1.15M1.15,0H3M-1.15,0A1.15,1.15,0,1,1,1.15,0A1.15,1.15,0,1,1,-1.15,0Z","M-3,0H-0.91M0.91,0H3M0,-1.5L1.42,0.85L-1.42,0.85Z","M-3,0H-0.91M0.91,0H3M0,1.5L1.42,-0.85L-1.42,-0.85Z"]},"legend":{"title":null,"orient":"none","legendX":640,"legendY":339,"labelOffset":37,"rowPadding":12}}
}}
]
},
{
"width":1110,"height":910,
"data":{"name":"e"},
"encoding":{
"x":{"field":"t","type":"quantitative","scale":{"domain":[0,600],"nice":false,"zero":false},"axis":{"title":"Time (s)","values":[0,50,100,150,200,250,300,350,400,450,500,550,600],"labelExpr":"datum.value % 100 == 0 ? '' + datum.value : ''","tickSize":{"condition":{"test":"datum.value % 100 != 0","value":9},"value":17}}},
"y":{"field":"v","type":"quantitative","scale":{"domain":[-100,1100],"nice":false,"zero":false},"axis":{"title":"Ds","values":[-100,0,100,200,300,400,500,600,700,800,900,1000,1100],"labelExpr":"datum.value % 200 == 0 ? '' + datum.value : ''","tickSize":{"condition":{"test":"datum.value % 200 != 0","value":9},"value":17}}}
},
"layer":[
{"transform":[{"filter":"datum.s == 'EP'"}],"mark":{"type":"line","color":"#D4A000","strokeWidth":4.5,"interpolate":"monotone","clip":true}},
{"transform":[{"filter":"datum.s == 'EP' && datum.m == 1"}],"mark":{"type":"point","shape":"square","size":1225,"filled":true,"fill":"white","stroke":"#D4A000","strokeWidth":5,"opacity":1,"clip":true}},
{"transform":[{"filter":"datum.s == 'EP/5%DBIO'"}],"mark":{"type":"line","color":"#3C9650","strokeWidth":4.5,"interpolate":"monotone","clip":true}},
{"transform":[{"filter":"datum.s == 'EP/5%DBIO' && datum.m == 1"}],"mark":{"type":"point","shape":"circle","size":1400,"filled":true,"fill":"white","stroke":"#3C9650","strokeWidth":5,"opacity":1,"clip":true}},
{"transform":[{"filter":"datum.s == 'EP/10%DBIO'"}],"mark":{"type":"line","color":"#CD5F3C","strokeWidth":4.5,"interpolate":"monotone","clip":true}},
{"transform":[{"filter":"datum.s == 'EP/10%DBIO' && datum.m == 1"}],"mark":{"type":"point","shape":"M0,-1.76L1.2,0.44L-1.2,0.44Z","size":1344,"filled":true,"fill":"white","stroke":"#CD5F3C","strokeWidth":5,"opacity":1,"clip":true}},
{"transform":[{"filter":"datum.s == 'EP/15%DBIO'"}],"mark":{"type":"line","color":"#50AFB4","strokeWidth":4.5,"interpolate":"monotone","clip":true}},
{"transform":[{"filter":"datum.s == 'EP/15%DBIO' && datum.m == 1"}],"mark":{"type":"point","shape":"M0,1.76L1.2,-0.44L-1.2,-0.44Z","size":1344,"filled":true,"fill":"white","stroke":"#50AFB4","strokeWidth":5,"opacity":1,"clip":true}},
{"data":{"values":[{"t":288,"t2":387,"v":998},{"t":288,"t2":387,"v":453.6}]},"mark":{"type":"rule","color":"#A80E0E","strokeWidth":9},"encoding":{"x2":{"field":"t2"}}},
{"data":{"values":[{"t":337,"v":998,"v2":530}]},"mark":{"type":"rule","color":"#A80E0E","strokeWidth":9},"encoding":{"y2":{"field":"v2"}}},
{"data":{"values":[{"t":337,"v":456}]},"mark":{"type":"point","shape":"M-0.52,-2L0.52,-2L0,0Z","size":4900,"filled":true,"color":"#A80E0E","opacity":1,"strokeWidth":0}},
{"data":{"values":[{"t":399,"v":608,"txt":"55%"}]},"mark":{"type":"text","color":"#A80E0E","fontSize":75,"fontWeight":"bold","font":"Liberation Sans","align":"center","baseline":"middle"},"encoding":{"text":{"field":"txt"}}},
{"data":{"values":[{"t":562,"v":1012,"txt":"(e)"}]},"mark":{"type":"text","color":"black","fontSize":72,"fontWeight":"bold","font":"Liberation Sans","align":"center","baseline":"middle"},"encoding":{"text":{"field":"txt"}}},
{"transform":[{"filter":"false"}],"mark":{"type":"point","filled":false,"size":1344,"strokeWidth":5,"opacity":1},
"encoding":{
"stroke":{"field":"s","type":"nominal","scale":{"domain":["EP","EP/5%DBIO","EP/10%DBIO","EP/15%DBIO"],"range":["#D4A000","#3C9650","#CD5F3C","#50AFB4"]},"legend":{"title":null,"orient":"none","legendX":642,"legendY":619,"labelOffset":37,"rowPadding":8.5}},
"shape":{"field":"s","type":"nominal","scale":{"domain":["EP","EP/5%DBIO","EP/10%DBIO","EP/15%DBIO"],"range":["M-3,0H-1.05M1.05,0H3M-1.05,-1.05H1.05V1.05H-1.05Z","M-3,0H-1.15M1.15,0H3M-1.15,0A1.15,1.15,0,1,1,1.15,0A1.15,1.15,0,1,1,-1.15,0Z","M-3,0H-0.91M0.91,0H3M0,-1.5L1.42,0.85L-1.42,0.85Z","M-3,0H-0.91M0.91,0H3M0,1.5L1.42,-0.85L-1.42,-0.85Z"]},"legend":{"title":null,"orient":"none","legendX":642,"legendY":619,"labelOffset":37,"rowPadding":8.5}}
}}
]
}
],
"config":{
"font":"Liberation Sans",
"view":{"stroke":"black","strokeWidth":5},
"axis":{"grid":false,"domainColor":"black","domainWidth":5,"tickColor":"black","tickWidth":5,"labelFont":"Liberation Sans","labelFontSize":60,"labelFontWeight":"bold","labelColor":"black","titleFont":"Liberation Sans","titleFontSize":60,"titleFontWeight":"bold","titleColor":"black","labelOverlap":false,"labelFlush":false},
"axisX":{"labelPadding":10,"titlePadding":38},
"axisY":{"labelPadding":11,"titlePadding":7},
"legend":{"labelFont":"Liberation Sans","labelFontSize":55,"labelFontWeight":"bold","labelColor":"black","symbolStrokeWidth":5,"symbolSize":1344,"padding":0,"labelLimit":0}
}
}
